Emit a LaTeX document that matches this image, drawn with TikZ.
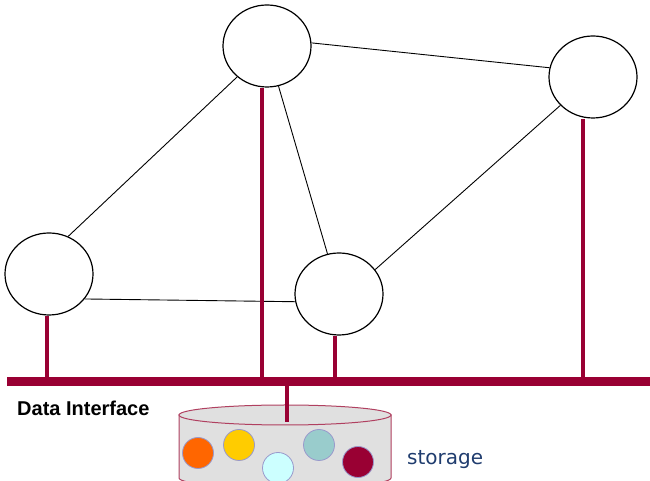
\documentclass[tikz,border=0pt]{standalone}
\usepackage{fontspec}
\setmainfont{Liberation Sans}
\newfontfamily\storfont{DejaVu Sans}
\usetikzlibrary{shapes.geometric}
\definecolor{busred}{RGB}{153,0,51}
\definecolor{cylline}{RGB}{176,64,96}
\definecolor{cylfill}{RGB}{224,224,224}
\definecolor{discline}{RGB}{153,153,204}
\definecolor{storblue}{RGB}{31,60,110}
\begin{document}
\begin{tikzpicture}[x=1pt,y=1pt,
  peer/.style={ellipse,draw=black,line width=1.2pt,fill=white,minimum width=88pt,minimum height=82pt,inner sep=0pt},
  link/.style={draw=black,line width=0.9pt},
  tap/.style={draw=busred,line width=4pt},
  bus/.style={draw=busred,line width=9pt},
  disc/.style={circle,draw=discline,line width=0.8pt,minimum size=31pt,inner sep=0pt}]
\useasboundingbox (0,0) rectangle (650,481);
% bus
\coordinate (busL) at (7,99.5);
\coordinate (busR) at (650,99.5);
% peers
\node[peer] (T) at (267,435) {};
\node[peer] (R) at (593,404) {};
\node[peer] (L) at (49,207) {};
\node[peer] (M) at (339,187) {};
% links
\draw[link] (L.63) -- (T.226);
\draw[link] (T.4) -- (R.168);
\draw[link] (T.286) -- (M.106);
\draw[link] (M.34) -- (R.221);
\draw[link] (L.325) -- (M.190);
% taps
\draw[tap] ([xshift=-2pt]L.south) -- ([xshift=-2pt]L.south |- busL);
\draw[tap] ([xshift=-5pt]T.south) -- ([xshift=-5pt]T.south |- busL);
\draw[tap] ([xshift=-4pt]M.south) -- ([xshift=-4pt]M.south |- busL);
\draw[tap] ([xshift=-10pt]R.south) -- ([xshift=-10pt]R.south |- busL);
\draw[bus] (busL) -- (busR);
% storage cylinder
\coordinate (cyl) at (285,66);
\filldraw[fill=cylfill,draw=cylline,line width=1pt]
  (179,66) -- (179,3) arc[start angle=180,end angle=360,x radius=106,y radius=10] -- (391,66) -- cycle;
\filldraw[fill=cylfill,draw=cylline,line width=1pt] (cyl) ellipse[x radius=106,y radius=10];
\coordinate (stortop) at (287,59);
\draw[tap] (stortop |- busL) -- (stortop);
% discs
\node[disc,fill={rgb,255:red,255;green,102;blue,0}] (d1) at (198,28) {};
\node[disc,fill={rgb,255:red,255;green,204;blue,0}] (d2) at (239,36) {};
\node[disc,fill={rgb,255:red,204;green,255;blue,255}] (d3) at (278,13) {};
\node[disc,fill={rgb,255:red,153;green,204;blue,204}] (d4) at (319,36) {};
\node[disc,fill=busred] (d5) at (358,19) {};
% labels
\node[anchor=base west,inner sep=0pt,font=\fontsize{20}{24}\selectfont\bfseries] (di) at (17,65) {Data Interface};
\node[anchor=base west,inner sep=0pt,font=\storfont\fontsize{20}{24}\selectfont,text=storblue] (st) at (407,16) {storage};
\end{tikzpicture}
\end{document}
